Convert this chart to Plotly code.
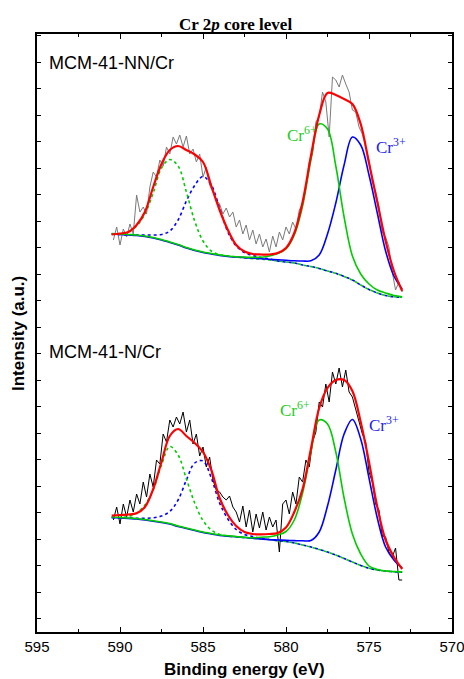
import plotly.graph_objects as go

# ---------------- data (intensities in arbitrary units) ----------------
energy_fit = [590.5, 590.0, 589.5, 589.0, 588.5, 588.0, 587.5, 587.0, 586.5, 586.0,
              585.5, 585.0, 584.5, 584.0, 583.5, 583.0, 582.5, 582.0, 581.5, 581.0,
              580.5, 580.0, 579.5, 579.0, 578.5, 578.0, 577.5, 577.0, 576.5, 576.0,
              575.5, 575.0, 574.5, 574.0, 573.5, 573.0]

energy_raw = [590.4, 590.2, 590.0, 589.8, 589.6, 589.4, 589.2, 589.0, 588.8, 588.6,
              588.4, 588.2, 588.0, 587.8, 587.6, 587.4, 587.2, 587.0, 586.8, 586.6,
              586.4, 586.2, 586.0, 585.8, 585.6, 585.4, 585.2, 585.0, 584.8, 584.6,
              584.4, 584.2, 584.0, 583.8, 583.6, 583.4, 583.2, 583.0, 582.8, 582.6,
              582.4, 582.2, 582.0, 581.8, 581.6, 581.4, 581.2, 581.0, 580.8, 580.6,
              580.4, 580.2, 580.0, 579.8, 579.6, 579.4, 579.2, 579.0, 578.8, 578.6,
              578.4, 578.2, 578.0, 577.8, 577.6, 577.4, 577.2, 577.0, 576.8, 576.6,
              576.4, 576.2, 576.0, 575.8, 575.6, 575.4, 575.2, 575.0, 574.8, 574.6,
              574.4, 574.2, 574.0, 573.8, 573.6, 573.4, 573.2, 573.0]

# MCM-41-NN/Cr (upper spectrum)
nn_raw = [392, 405, 387, 403, 395, 408, 398, 437, 420, 425,
          418, 445, 460, 455, 472, 466, 485, 478, 495, 488,
          497, 485, 496, 478, 483, 470, 478, 455, 465, 447,
          440, 432, 428, 418, 424, 415, 420, 405, 412, 398,
          407, 392, 402, 388, 398, 385, 393, 380, 396, 385,
          400, 392, 405, 398, 410, 403, 422, 428, 445, 470,
          478, 510, 515, 540, 530, 495, 555, 552, 545, 557,
          548, 540, 522, 520, 505, 498, 485, 472, 450, 440,
          425, 400, 395, 385, 360, 342, 350, 340]
nn_fit = [397.5, 398.5, 400, 407, 420, 445, 468, 482, 486, 482,
          477.5, 470, 446, 422, 402, 387, 380.5, 378, 377.5, 377.5,
          379, 384, 399, 430, 476, 517, 539, 537, 533, 528,
          508, 469, 430, 391, 361, 341]
nn_cr6_32 = [398.5, 398, 397.5, 397, 396, 394.5, 392.5, 390, 387.5, 384.5,
             382, 380, 378.5, 377, 376, 375.3, 374.9, 374.6, 374.8, 376,
             378.5, 383, 397, 426, 472, 508, 503, 466, 415, 376,
             358, 348, 342, 339, 336.5, 335.3]
nn_cr3_32 = [398, 397.5, 397, 396.5, 395.5, 394, 392, 389.5, 387, 384,
             381.5, 379.5, 378, 376.5, 375.5, 375, 374.4, 373.8, 373.2, 372.7,
             372.2, 371.7, 371.2, 371, 371.2, 377, 398, 429, 467, 495,
             487, 457, 419, 381, 356, 343]
nn_cr6_12 = [398, 398, 400, 406, 418, 439, 464, 472.5, 466, 440,
             411, 391, 381, 377.5, 376, 375, 374, 373.4, 372.8, 372,
             371, 370, 369, 367, 365.5, 363.5, 361, 358.7, 355.5, 352,
             347, 342.5, 339, 336.5, 335.2, 334.7]
nn_cr3_12 = [398, 397.5, 397, 397, 397, 397, 397.5, 401, 412, 431,
             446.5, 455.5, 447, 424, 400, 386, 379.5, 376.5, 374.5, 373,
             371, 370, 369, 367, 365.5, 363.5, 361, 358.7, 355.5, 352,
             347, 342.5, 339, 336.5, 335.2, 334.7]

# MCM-41-N/Cr (lower spectrum)
n_raw = [112, 125, 108, 128, 115, 132, 120, 138, 128, 150,
         135, 158, 145, 172, 168, 198, 190, 212, 205, 215,
         208, 220, 200, 212, 188, 198, 176, 185, 165, 175,
         152, 142, 140, 135, 132, 136, 125, 120, 110, 126,
         105, 122, 100, 118, 104, 120, 102, 115, 105, 112,
         80, 128, 132, 118, 140, 128, 155, 150, 172, 165,
         190, 200, 230, 225, 248, 230, 260, 248, 264, 245,
         262, 240, 235, 222, 210, 198, 190, 160, 150, 128,
         122, 96, 95, 80, 75, 84, 52, 52]
n_fit = [116.3, 117, 117.5, 118.7, 125, 143, 170, 196, 203, 196,
         189, 180, 162, 134, 117, 106, 100, 98, 97.7, 98,
         99, 104.5, 120, 143, 183, 224, 244, 252, 252, 241,
         210, 170, 125, 92, 75, 63]
n_cr6_32 = [115, 114.5, 114, 113.5, 112.5, 111.2, 110, 108.5, 106, 104,
            102, 100, 98.5, 97, 96.2, 95.5, 94.7, 94.2, 94.8, 95.3,
            97, 100.5, 112, 139, 180, 212, 208, 180, 134, 98,
            78, 66, 62.5, 61, 60.5, 60.3]
n_cr3_32 = [114.5, 114, 113.5, 113, 112, 110.7, 109.5, 108, 105.5, 103.5,
            101.5, 99.5, 98, 96.5, 95.7, 95.2, 94.5, 93.8, 93, 92.3,
            92, 91.7, 91.4, 91.2, 91.5, 100, 126, 162, 198, 212.5,
            193, 154, 114, 85, 72, 64]
n_cr6_12 = [114.5, 114.5, 115.5, 119, 127, 142, 167, 185.5, 177, 153,
            129, 111.5, 102, 97.5, 96, 95, 94.2, 93.6, 93, 92.5,
            91.2, 90.5, 89, 87, 85, 82.5, 80, 77, 73.5, 70,
            66.5, 63.7, 62, 61, 60.2, 59.7]
n_cr3_12 = [114.5, 114, 114, 113.7, 113.7, 114.2, 116, 120.5, 132, 152,
            169, 171, 154, 129, 113, 102.5, 97.5, 95.5, 93.5, 92.5,
            91.2, 90.5, 89, 87, 85, 82.5, 80, 77, 73.5, 70,
            66.5, 63.7, 62, 61, 60.2, 59.7]

x_ticks = [595, 590, 585, 580, 575, 570]
sample_labels = ["MCM-41-NN/Cr", "MCM-41-N/Cr"]

# ---------------- styles ----------------
RED = "#ff0000"
GREEN = "#00cc00"
BLUE = "#0000ff"

fig = go.Figure()

def add_spectrum(raw, raw_color, fit, c6_32, c3_32, c6_12, c3_12):
    fig.add_trace(go.Scatter(x=energy_raw, y=raw, mode="lines",
                             line=dict(color=raw_color, width=1)))
    fig.add_trace(go.Scatter(x=energy_fit, y=c3_12, mode="lines",
                             line=dict(color=BLUE, width=1.6, dash="dot", shape="spline")))
    fig.add_trace(go.Scatter(x=energy_fit, y=c6_12, mode="lines",
                             line=dict(color=GREEN, width=1.6, dash="dot", shape="spline")))
    fig.add_trace(go.Scatter(x=energy_fit, y=c3_32, mode="lines",
                             line=dict(color=BLUE, width=1.6, shape="spline")))
    fig.add_trace(go.Scatter(x=energy_fit, y=c6_32, mode="lines",
                             line=dict(color=GREEN, width=1.6, shape="spline")))
    fig.add_trace(go.Scatter(x=energy_fit, y=fit, mode="lines",
                             line=dict(color=RED, width=2.2, shape="spline")))

add_spectrum(nn_raw, "#7a7a7a", nn_fit, nn_cr6_32, nn_cr3_32, nn_cr6_12, nn_cr3_12)
add_spectrum(n_raw, "#000000", n_fit, n_cr6_32, n_cr3_32, n_cr6_12, n_cr3_12)

SANS = "Liberation Sans, Arial, sans-serif"
SERIF = "Liberation Serif, Times New Roman, serif"

annotations = [
    dict(text="<b>Cr 2<i>p</i> core level</b>", xref="paper", yref="paper",
         x=0.4795, y=1.0167, xanchor="center", yanchor="middle", showarrow=False,
         font=dict(family=SERIF, size=17, color="black")),
    dict(text=sample_labels[0], xref="x", yref="y", x=594.4, y=569,
         xanchor="left", yanchor="middle", showarrow=False,
         font=dict(family=SANS, size=18, color="black")),
    dict(text=sample_labels[1], xref="x", yref="y", x=594.4, y=280,
         xanchor="left", yanchor="middle", showarrow=False,
         font=dict(family=SANS, size=18, color="black")),
    dict(text="Cr<sup>6+</sup>", xref="x", yref="y", x=580.06, y=498,
         xanchor="left", yanchor="middle", showarrow=False,
         font=dict(family=SERIF, size=17, color="#22cc22")),
    dict(text="Cr<sup>3+</sup>", xref="x", yref="y", x=574.7, y=486,
         xanchor="left", yanchor="middle", showarrow=False,
         font=dict(family=SERIF, size=17, color="#2222ee")),
    dict(text="Cr<sup>6+</sup>", xref="x", yref="y", x=580.48, y=223,
         xanchor="left", yanchor="middle", showarrow=False,
         font=dict(family=SERIF, size=17, color="#22cc22")),
    dict(text="Cr<sup>3+</sup>", xref="x", yref="y", x=575.12, y=208,
         xanchor="left", yanchor="middle", showarrow=False,
         font=dict(family=SERIF, size=17, color="#2222ee")),
    dict(text="<b>Binding energy (eV)</b>", xref="paper", yref="paper",
         x=0.501, y=-0.0635, xanchor="center", yanchor="middle", showarrow=False,
         font=dict(family=SANS, size=17, color="black")),
    dict(text="<b>Intensity (a.u.)</b>", xref="paper", yref="paper",
         x=-0.0458, y=0.5, xanchor="center", yanchor="middle", showarrow=False,
         textangle=-90, font=dict(family=SANS, size=17, color="black")),
]

fig.update_layout(
    width=464, height=679,
    margin=dict(l=37, r=12, t=34, b=47, autoexpand=False),
    paper_bgcolor="white", plot_bgcolor="white",
    showlegend=False,
    annotations=annotations,
    xaxis=dict(range=[595, 570], tickmode="array", tickvals=x_ticks,
               automargin=False, ticklabeloverflow="allow",
               ticks="inside", ticklen=5, tickwidth=1, tickcolor="black",
               minor=dict(dtick=2.5, ticks="inside", ticklen=3, tickcolor="black"),
               showline=True, linecolor="black", linewidth=1.5, mirror="ticks",
               showgrid=False, zeroline=False,
               tickfont=dict(family=SANS, size=15, color="black")),
    yaxis=dict(range=[0, 598], tick0=13.5, dtick=26.5,
               automargin=False,
               ticks="inside", ticklen=4, tickwidth=1, tickcolor="black",
               showticklabels=False,
               showline=True, linecolor="black", linewidth=1.5, mirror="ticks",
               showgrid=False, zeroline=False),
)

fig.write_html("out.html",
               config={"displayModeBar": False},
               post_script="document.body.style.margin='0px';"
                           "document.body.style.overflow='hidden';")
